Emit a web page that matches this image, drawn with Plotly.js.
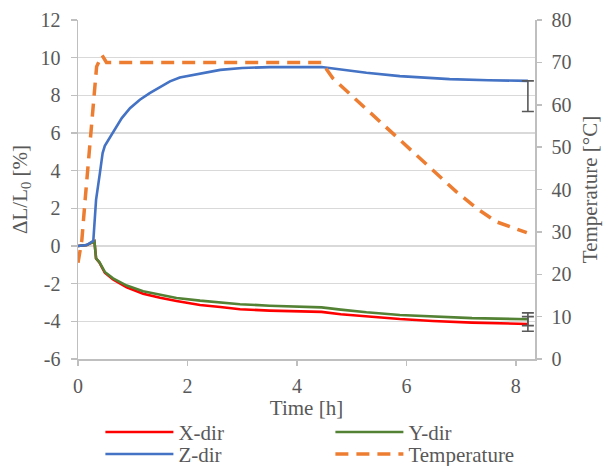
<!DOCTYPE html>
<html><head><meta charset="utf-8">
<script src="https://cdn.plot.ly/plotly-3.0.1.min.js"></script>
<style>html,body{margin:0;padding:0;background:#fff}</style>
</head><body><div id="chart" style="width:606px;height:466px"></div>
<script>
// Time axis [h] for the strain series
const tXY = [0, 0.16, 0.3, 0.33, 0.39, 0.49, 0.64, 0.89, 1.19, 1.5, 1.8, 2.23, 2.6, 2.96, 3.5, 4.0, 4.45, 4.8, 5.27, 5.88, 6.48, 7.2, 8.22];
const xDir = [0, 0.05, 0.25, -0.66, -0.87, -1.42, -1.78, -2.2, -2.53, -2.75, -2.92, -3.13, -3.24, -3.36, -3.43, -3.47, -3.5, -3.62, -3.75, -3.88, -3.98, -4.07, -4.14];
const yDir = [0, 0.05, 0.25, -0.66, -0.85, -1.38, -1.72, -2.1, -2.4, -2.6, -2.76, -2.9, -3.0, -3.09, -3.17, -3.22, -3.26, -3.38, -3.52, -3.66, -3.75, -3.83, -3.89];
const tZ = [0, 0.16, 0.28, 0.33, 0.4, 0.45, 0.49, 0.58, 0.68, 0.8, 0.95, 1.13, 1.31, 1.5, 1.68, 1.86, 2.2, 2.6, 3.0, 3.5, 4.45, 4.7, 5.27, 5.88, 6.79, 7.5, 8.22];
const zDir = [0, 0.05, 0.28, 2.45, 3.87, 4.93, 5.32, 5.73, 6.26, 6.79, 7.32, 7.77, 8.12, 8.44, 8.74, 8.95, 9.15, 9.35, 9.45, 9.5, 9.5, 9.4, 9.2, 9.02, 8.86, 8.8, 8.77];
const tTemp = [0, 0.07, 0.13, 0.22, 0.28, 0.34, 0.44, 0.52, 1, 2, 3, 4, 4.45, 4.66, 5.02, 5.42, 5.82, 6.18, 6.55, 6.91, 7.28, 7.64, 8.2];
const temp = [22.7, 28, 37.5, 51.7, 61, 69, 71.7, 70, 70, 70, 70, 70, 70, 66.2, 61.9, 57.3, 52.5, 48.1, 43.8, 39.5, 35.6, 32.4, 29.8];
// error bars at the final point
const errX = 0.39;
const errY = 0.34;
const errZminus = 1.63;
// tick values
const yTicks = [-6, -4, -2, 0, 2, 4, 6, 8, 10, 12];
const y2Ticks = [0, 10, 20, 30, 40, 50, 60, 70, 80];
const xTicks = [0, 2, 4, 6, 8];

const FONT = '"Liberation Serif", "Times New Roman", serif';
const TXT = '#595959';
const FS = 20;   // tick labels
const FT = 21;   // titles and legend
const last = a => a[a.length - 1];
const errStyle = {type: 'data', color: '#595959', thickness: 1.6, width: 6};

const traces = [
  {x: tXY, y: xDir, name: 'X-dir', mode: 'lines', legend: 'legend', line: {color: '#FF0000', width: 2.6}},
  {x: tXY, y: yDir, name: 'Y-dir', mode: 'lines', legend: 'legend', line: {color: '#548235', width: 2.6}},
  {x: tZ, y: zDir, name: 'Z-dir', mode: 'lines', legend: 'legend2', line: {color: '#4472C4', width: 2.6}},
  {x: tTemp, y: temp, name: 'Temperature', mode: 'lines', yaxis: 'y2', legend: 'legend2', line: {color: '#ED7D31', width: 3.5, dash: '13px,8px'}},
  {x: [last(tXY)], y: [last(yDir)], mode: 'markers', marker: {opacity: 0}, showlegend: false, hoverinfo: 'skip',
   error_y: Object.assign({array: [errY]}, errStyle)},
  {x: [last(tXY)], y: [last(xDir)], mode: 'markers', marker: {opacity: 0}, showlegend: false, hoverinfo: 'skip',
   error_y: Object.assign({array: [errX]}, errStyle)},
  {x: [last(tZ)], y: [last(zDir)], mode: 'markers', marker: {opacity: 0}, showlegend: false, hoverinfo: 'skip',
   error_y: Object.assign({symmetric: false, array: [0], arrayminus: [errZminus]}, errStyle)}
];

const legBase = {
  orientation: 'h', x: 0.049, xanchor: 'left', yanchor: 'top',
  entrywidth: 147, entrywidthmode: 'pixels', itemwidth: 68,
  font: {family: FONT, size: FT, color: TXT}, bgcolor: 'rgba(0,0,0,0)'
};

const layout = {
  width: 606, height: 466,
  margin: {l: 78, r: 71, t: 20, b: 107, autoexpand: false},
  paper_bgcolor: '#fff', plot_bgcolor: '#fff',
  font: {family: FONT, size: FS, color: TXT},
  showlegend: true,
  xaxis: {
    range: [0, 8.35], tickvals: xTicks, ticktext: xTicks.map(String),
    showgrid: false, zeroline: false, showline: true, linecolor: '#BFBFBF', linewidth: 1.5,
    ticks: 'outside', ticklen: 5, tickcolor: '#BFBFBF', tickwidth: 1.5, ticklabelstandoff: 3,
    tickfont: {family: FONT, size: FS, color: TXT},
    title: {text: 'Time [h]', font: {family: FONT, size: FT, color: TXT}, standoff: 0}
  },
  yaxis: {
    range: [-6, 12], tickvals: yTicks, ticktext: yTicks.map(String),
    showgrid: true, gridcolor: '#D9D9D9', gridwidth: 1.5, zeroline: false,
    showline: true, linecolor: '#BFBFBF', linewidth: 1.5,
    ticks: 'outside', ticklen: 6, tickcolor: '#BFBFBF', tickwidth: 1.5, ticklabelstandoff: 6,
    tickfont: {family: FONT, size: FS, color: TXT},
    title: {text: 'ΔL/L<sub>0</sub> [%]', font: {family: FONT, size: FT, color: TXT}, standoff: 7}
  },
  yaxis2: {
    overlaying: 'y', side: 'right', range: [0, 80], tickvals: y2Ticks, ticktext: y2Ticks.map(String),
    showgrid: false, zeroline: false, showline: true, linecolor: '#BFBFBF', linewidth: 1.5,
    ticks: 'outside', ticklen: 5, tickcolor: '#BFBFBF', tickwidth: 1.5, ticklabelstandoff: 6,
    tickfont: {family: FONT, size: FS, color: TXT},
    title: {text: 'Temperature [°C]', font: {family: FONT, size: FT, color: TXT}, standoff: 12}
  },
  legend: Object.assign({}, legBase, {y: -0.156}),
  legend2: Object.assign({}, legBase, {y: -0.221})
};

Plotly.newPlot('chart', traces, layout, {displayModeBar: false, staticPlot: true});
</script></body></html>
